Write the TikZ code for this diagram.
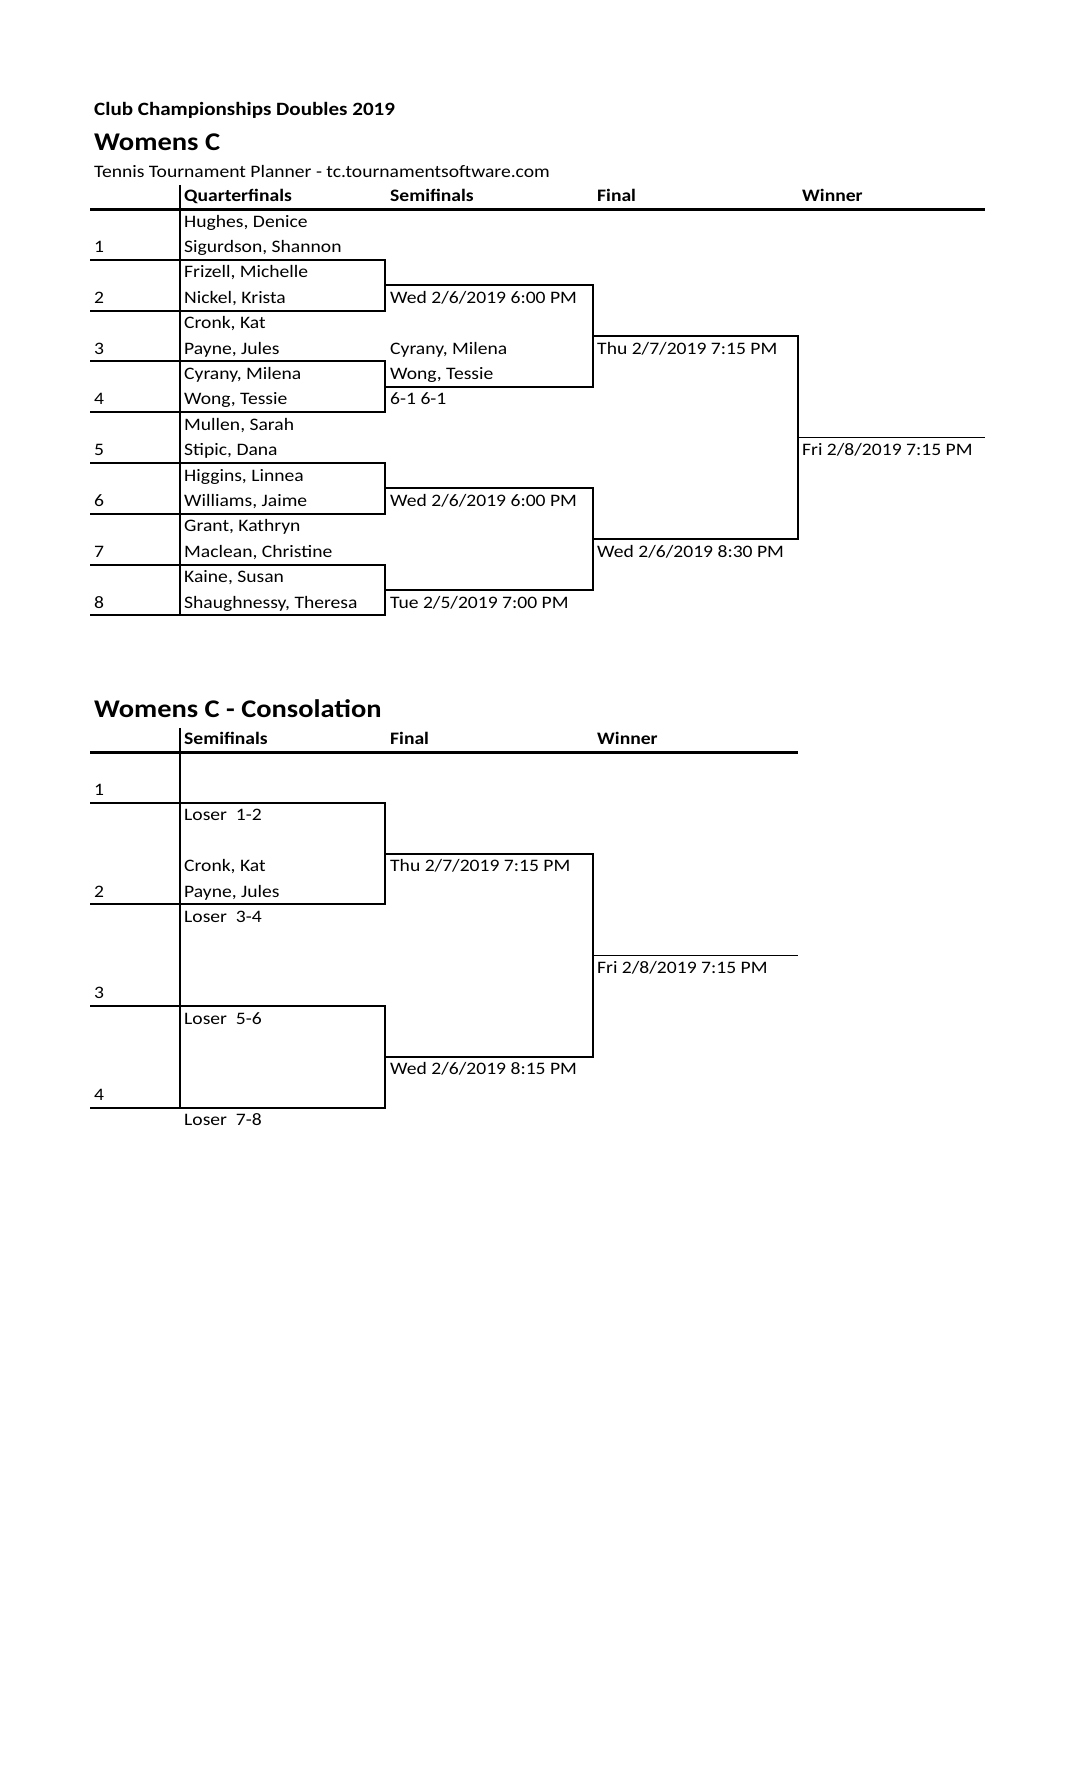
\documentclass[tikz,border=0pt]{standalone}
\usepackage{fontspec}
\setmainfont[FakeStretch=1.12]{Carlito}
\usetikzlibrary{positioning}
\tikzset{% 
  cell/.style={%
    anchor=base west,
    inner sep=0pt,
    yshift=7.4pt,
    font=\fontsize{17.5}{20}\selectfont
  }
}
\tikzset{% 
  head/.style={%
    cell,
    font=\fontsize{17.5}{20}\selectfont\bfseries
  }
}
\tikzset{% 
  bracket/.style={%
    line width=2pt,
    line join=miter
  },
  header rule/.style={%
    line width=3pt
  },
  winner rule/.style={%
    line width=1.3pt
  }
}

\begin{document}
\begin{tikzpicture}[x=1pt,y=-25.4pt]
  \useasboundingbox (0pt,0pt) rectangle (1088pt,-1792pt);
  \node [anchor=base west,inner sep=0pt,font=\fontsize{18.8}{20}\selectfont\bfseries] (club) at (94pt,-115pt) {Club Championships Doubles 2019};
  \node [anchor=base west,inner sep=0pt,font=\fontsize{25.5}{30}\selectfont\bfseries] (event) at (94pt,-150pt) {Womens C};
  \node [anchor=base west,inner sep=0pt,font=\fontsize{17.5}{20}\selectfont] (planner) at (94pt,-177pt) {Tennis Tournament Planner - tc.tournamentsoftware.com};
  \node [anchor=base west,inner sep=0pt,font=\fontsize{25.4}{30}\selectfont\bfseries] (consol) at (94pt,-717pt) {Womens C - Consolation};
  \begin{scope}[shift={(0pt,-209pt)}]
    \node [head] (hqf) at (184,0) {Quarterfinals};
    \node [head] (hsf) at (390,0) {Semifinals};
    \node [head] (hf) at (597,0) {Final};
    \node [head] (hw) at (802,0) {Winner};
    \foreach \r/\name in {1/{Hughes, Denice},2/{Sigurdson, Shannon},3/{Frizell, Michelle},4/{Nickel, Krista},
      5/{Cronk, Kat},6/{Payne, Jules},7/{Cyrany, Milena},8/{Wong, Tessie},9/{Mullen, Sarah},10/{Stipic, Dana},
      11/{Higgins, Linnea},12/{Williams, Jaime},13/{Grant, Kathryn},14/{Maclean, Christine},15/{Kaine, Susan},
      16/{Shaughnessy, Theresa}}
      \node [cell] (qf\r) at (184,\r) {\name};
    \foreach \s [evaluate=\s as \r using int(2*\s)] in {1,...,8}
      \node [cell] (seed\s) at (94,\r) {\s};
    \foreach \r/\txt in {4/{Wed 2/6/2019 6:00 PM},6/{Cyrany, Milena},7/{Wong, Tessie},8/{6-1 6-1},
      12/{Wed 2/6/2019 6:00 PM},16/{Tue 2/5/2019 7:00 PM}}
      \node [cell] (sf\r) at (390,\r) {\txt};
    \node [cell] (fa) at (597,6) {Thu 2/7/2019 7:15 PM};
    \node [cell] (fb) at (597,14) {Wed 2/6/2019 8:30 PM};
    \node [cell] (win) at (802,10) {Fri 2/8/2019 7:15 PM};
    \draw [header rule] (90,0) -- (985,0);
    \draw [bracket] (180,-0.95) -- (180,16);
    \foreach \r in {2,6,10,14}
      \draw [bracket] (90,\r) -- (385,\r) -- (385,\r+2) -- (90,\r+2);
    \foreach \r in {3,11}
      \draw [bracket] (385,\r) -- (593,\r) -- (593,\r+4) -- (385,\r+4);
    \draw [bracket] (593,5) -- (798,5) -- (798,13) -- (593,13);
    \draw [winner rule] (798,9) -- (985,9);
  \end{scope}
  \begin{scope}[shift={(0pt,-752pt)}]
    \node [head] (chsf) at (184,0) {Semifinals};
    \node [head] (chf) at (390,0) {Final};
    \node [head] (chw) at (597,0) {Winner};
    \foreach \s [evaluate=\s as \r using int(4*\s-2)] in {1,...,4}
      \node [cell] (cseed\s) at (94,\r) {\s};
    \foreach \r/\name in {3/{Loser\ \ 1-2},5/{Cronk, Kat},6/{Payne, Jules},7/{Loser\ \ 3-4},
      11/{Loser\ \ 5-6},15/{Loser\ \ 7-8}}
      \node [cell] (csf\r) at (184,\r) {\name};
    \node [cell] (cfa) at (390,5) {Thu 2/7/2019 7:15 PM};
    \node [cell] (cfb) at (390,13) {Wed 2/6/2019 8:15 PM};
    \node [cell] (cwin) at (597,9) {Fri 2/8/2019 7:15 PM};
    \draw [header rule] (90,0) -- (798,0);
    \draw [bracket] (180,-0.95) -- (180,14);
    \foreach \r in {2,10}
      \draw [bracket] (90,\r) -- (385,\r) -- (385,\r+4) -- (90,\r+4);
    \draw [bracket] (385,4) -- (593,4) -- (593,12) -- (385,12);
    \draw [winner rule] (593,8) -- (798,8);
  \end{scope}
\end{tikzpicture}
\end{document}
